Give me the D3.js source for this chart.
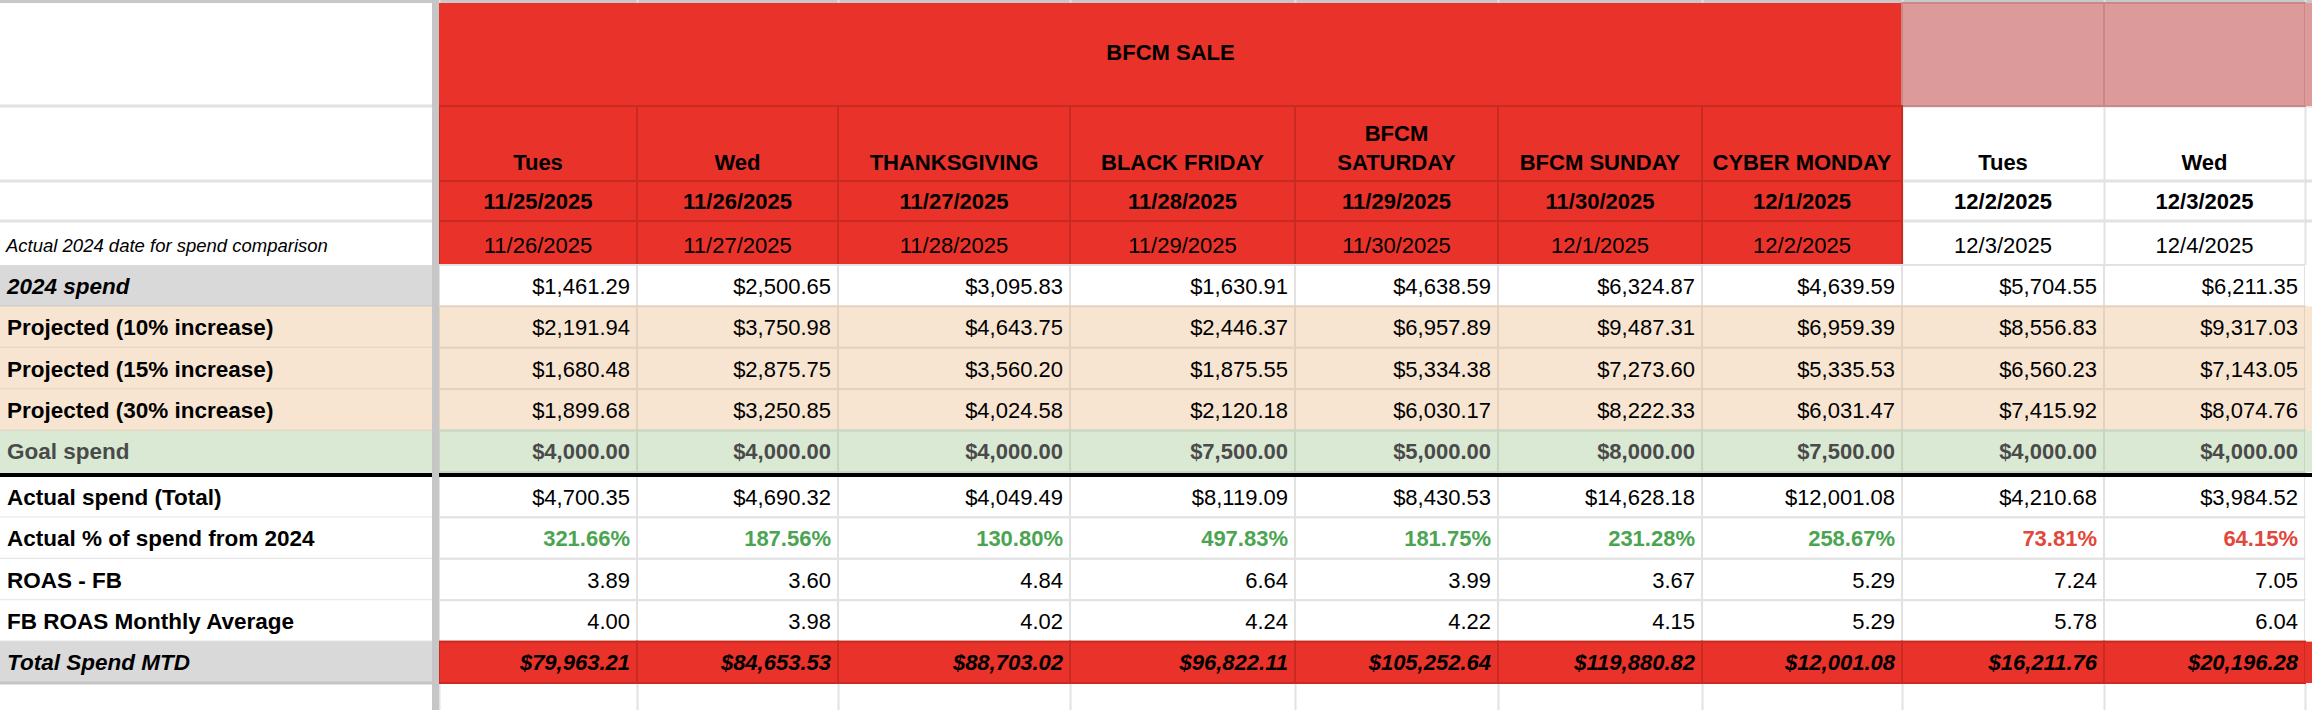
<!DOCTYPE html>
<html><head><meta charset="utf-8">
<script src="https://cdn.jsdelivr.net/npm/d3@7"></script>
<style>body{margin:0;background:#fff}svg{display:block}</style>
</head><body><svg id="c" width="2312" height="710"></svg>
<script>
const days = ["Tues","Wed","THANKSGIVING","BLACK FRIDAY","BFCM SATURDAY","BFCM SUNDAY","CYBER MONDAY","Tues","Wed"];
const dates = ["11/25/2025","11/26/2025","11/27/2025","11/28/2025","11/29/2025","11/30/2025","12/1/2025","12/2/2025","12/3/2025"];
const compDates = ["11/26/2025","11/27/2025","11/28/2025","11/29/2025","11/30/2025","12/1/2025","12/2/2025","12/3/2025","12/4/2025"];
const spend2024 = [1461.29,2500.65,3095.83,1630.91,4638.59,6324.87,4639.59,5704.55,6211.35];
const proj10 = [2191.94,3750.98,4643.75,2446.37,6957.89,9487.31,6959.39,8556.83,9317.03];
const proj15 = [1680.48,2875.75,3560.20,1875.55,5334.38,7273.60,5335.53,6560.23,7143.05];
const proj30 = [1899.68,3250.85,4024.58,2120.18,6030.17,8222.33,6031.47,7415.92,8074.76];
const goal = [4000,4000,4000,7500,5000,8000,7500,4000,4000];
const actual = [4700.35,4690.32,4049.49,8119.09,8430.53,14628.18,12001.08,4210.68,3984.52];
const pctOf2024 = [321.66,187.56,130.80,497.83,181.75,231.28,258.67,73.81,64.15];
const roasFB = [3.89,3.60,4.84,6.64,3.99,3.67,5.29,7.24,7.05];
const roasAvg = [4.00,3.98,4.02,4.24,4.22,4.15,5.29,5.78,6.04];
const mtd = [79963.21,84653.53,88703.02,96822.11,105252.64,119880.82,12001.08,16211.76,20196.28];
const saleTitle = "BFCM SALE";
const compLabel = "Actual 2024 date for spend comparison";
const saleCount = 7;

const svg = d3.select("#c");
const F = "Liberation Sans, Arial, sans-serif";
const money = d3.format("$,.2f"), num = d3.format(".2f");
const RED="#e8322a", PINK="#dd9a9a", BEIGE="#f8e5d1", GREEN="#d9e9d3", GRAY="#d9d9d9", GRID="#e2e2e2", RGRID="#c92a22";

// column layout
const colW = [198,201,232,225,203,204,200,202,201];
const x0 = 439;
const edges = [x0, ...d3.cumsum(colW).map(v=>v+x0)];
const xs = d3.scaleOrdinal().domain(d3.range(9)).range(edges);
const cx = i => xs(i), cw = i => colW[i];

// header rows
const hdr = [[3,106],[106,181],[181,221],[221,265]];
const rowH = 41.4, bodyTop = 265;
const rows = [
 {label:"2024 spend", vals:spend2024, fmt:money, bg:"#fff", lbg:GRAY, lstyle:"italic", lw:"bold"},
 {label:"Projected (10% increase)", vals:proj10, fmt:money, bg:BEIGE, lbg:BEIGE, lw:"bold"},
 {label:"Projected (15% increase)", vals:proj15, fmt:money, bg:BEIGE, lbg:BEIGE, lw:"bold"},
 {label:"Projected (30% increase)", vals:proj30, fmt:money, bg:BEIGE, lbg:BEIGE, lw:"bold"},
 {label:"Goal spend", vals:goal, fmt:money, bg:GREEN, lbg:GREEN, lw:"bold", color:"#4a4a4a", vw:"bold"},
 {label:"Actual spend (Total)", vals:actual, fmt:money, bg:"#fff", lbg:"#fff", lw:"bold", gap:4},
 {label:"Actual % of spend from 2024", vals:pctOf2024, fmt:v=>num(v)+"%", bg:"#fff", lbg:"#fff", lw:"bold", vw:"bold", colorFn:v=>v>=100?"#4ba451":"#e2473b"},
 {label:"ROAS - FB", vals:roasFB, fmt:num, bg:"#fff", lbg:"#fff", lw:"bold"},
 {label:"FB ROAS Monthly Average", vals:roasAvg, fmt:num, bg:"#fff", lbg:"#fff", lw:"bold"},
 {label:"Total Spend MTD", vals:mtd, fmt:money, bg:RED, lbg:GRAY, lstyle:"italic", lw:"bold", vw:"bold", vstyle:"italic"}
];
let y = bodyTop;
rows.forEach(r=>{ if(r.gap) y+=r.gap; r.y=y; y+=rowH; });
const endY = y;

// grid background: vertical lines full height
const g = svg.append("g");
g.append("rect").attr("x",0).attr("y",0).attr("width",2312).attr("height",3).attr("fill","#c8c8c8");
edges.forEach(e=>g.append("line").attr("x1",e+0.5).attr("x2",e+0.5).attr("y1",0).attr("y2",710).attr("stroke",GRID).attr("stroke-width",2));
// horizontal header lines (label column + white columns)
[106,181,221].forEach(h=>g.append("line").attr("x1",0).attr("x2",2312).attr("y1",h).attr("y2",h).attr("stroke",GRID).attr("stroke-width",3));

// Row 1: sale title + pink cells
g.append("rect").attr("x",cx(0)).attr("y",3).attr("width",edges[saleCount]-cx(0)).attr("height",103).attr("fill",RED);
for(let i=saleCount;i<9;i++) g.append("rect").attr("x",cx(i)).attr("y",3).attr("width",cw(i)).attr("height",103).attr("fill",PINK).attr("stroke","#c98787").attr("stroke-width",2);
g.append("rect").attr("x",edges[9]).attr("y",3).attr("width",10).attr("height",103).attr("fill",PINK);
g.append("text").attr("x",(cx(0)+edges[saleCount])/2).attr("y",60).attr("text-anchor","middle").attr("font-family",F).attr("font-weight","bold").attr("font-size",22).text(saleTitle);

// Header rows 2-4
for(let i=0;i<9;i++){
  const sale = i<saleCount;
  [[106,181],[181,221],[221,265]].forEach(([a,b])=>{
    if(sale) g.append("rect").attr("x",cx(i)).attr("y",a).attr("width",cw(i)).attr("height",b-a).attr("fill",RED).attr("stroke",RGRID).attr("stroke-width",2);
  });
  const mx = cx(i)+cw(i)/2;
  const words = days[i].split(" ");
  const lines = (words.length>1 && days[i].length>12) ? words : [days[i]];
  lines.forEach((l,k)=>g.append("text").attr("x",mx).attr("y",170-(lines.length-1-k)*29).attr("text-anchor","middle")
     .attr("font-family",F).attr("font-weight","bold").attr("font-size",22).text(l));
  g.append("text").attr("x",mx).attr("y",209).attr("text-anchor","middle").attr("font-family",F).attr("font-weight","bold").attr("font-size",22).text(dates[i]);
  g.append("text").attr("x",mx).attr("y",253).attr("text-anchor","middle").attr("font-family",F).attr("font-size",22).text(compDates[i]);
}
g.append("text").attr("x",6).attr("y",252).attr("font-family",F).attr("font-style","italic").attr("font-size",18.5).text(compLabel);

// Body rows
rows.forEach(r=>{
  g.append("rect").attr("x",0).attr("y",r.y).attr("width",432).attr("height",rowH).attr("fill",r.lbg);
  r.vals.forEach((v,i)=>{
    g.append("rect").attr("x",cx(i)).attr("y",r.y).attr("width",cw(i)).attr("height",rowH).attr("fill",r.bg)
      .attr("stroke", r.bg===RED?RGRID:(r.bg===BEIGE?"#e3d2c0":(r.bg===GREEN?"#c6d6c0":GRID))).attr("stroke-width",2);
    g.append("text").attr("x",cx(i)+cw(i)-7).attr("y",r.y+rowH/2+8).attr("text-anchor","end")
      .attr("font-family",F).attr("font-size",22).attr("font-weight",r.vw||"normal").attr("font-style",r.vstyle||"normal")
      .attr("fill", r.colorFn?r.colorFn(v):(r.color||"#000")).text(r.fmt(v));
  });
  g.append("rect").attr("x",edges[9]).attr("y",r.y).attr("width",10).attr("height",rowH).attr("fill",r.bg==="#fff"?"#fff":r.bg);
  g.append("line").attr("x1",0).attr("x2",432).attr("y1",r.y+rowH).attr("y2",r.y+rowH).attr("stroke",r.lbg===GRAY?"#c4c4c4":(r.lbg===BEIGE?"#e3d2c0":GRID)).attr("stroke-width",2);
  g.append("text").attr("x",7).attr("y",r.y+rowH/2+8).attr("font-family",F).attr("font-size",22.5)
    .attr("font-weight",r.lw).attr("font-style",r.lstyle||"normal").attr("fill",r.color||"#000").text(r.label);
});
// thick separator line
const ty = rows[5].y-3;
g.append("rect").attr("x",0).attr("y",ty).attr("width",432).attr("height",4).attr("fill","#000");
g.append("rect").attr("x",x0).attr("y",ty).attr("width",2312-x0).attr("height",4).attr("fill","#000");
// bottom gray line under MTD
g.append("line").attr("x1",0).attr("x2",432).attr("y1",endY).attr("y2",endY).attr("stroke","#c4c4c4").attr("stroke-width",3);
// frozen column separator
g.append("rect").attr("x",432).attr("y",0).attr("width",7).attr("height",710).attr("fill","#c6c6c6");
</script></body></html>
